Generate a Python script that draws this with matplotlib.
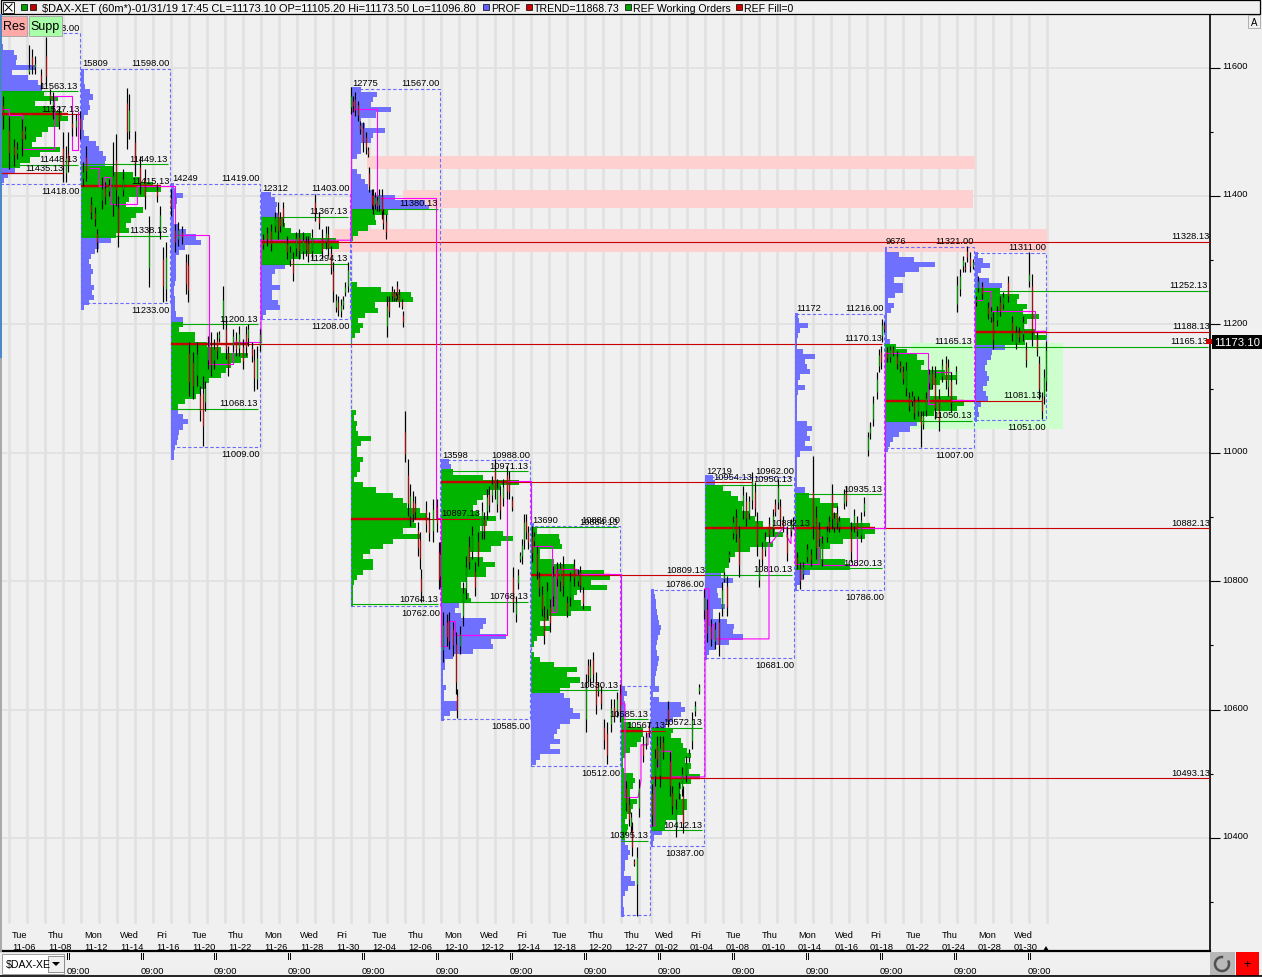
#!/usr/bin/env python3
"""Market profile chart of $DAX-XET hourly bars, with composite sessions."""

import matplotlib
matplotlib.use("Agg")
import matplotlib.pyplot as plt
from matplotlib.patches import Rectangle, Polygon, Arc
from matplotlib.ticker import MultipleLocator
from matplotlib.transforms import ScaledTranslation

plt.rcParams["font.family"] = ["Liberation Sans", "DejaVu Sans"]

W, H = 1262, 978
BG = "#f0f0f0"
GRID = "#e1e1e1"
BLUE = "#7070ff"
GREEN = "#00b400"
RED = "#c80000"
MAGENTA = "#ff00ff"
BOX = "#6a6aff"
FS = 6.7
BODY_SHARE = 0.7  # bar bodies are thin in the source, only the middle part gets coloured

# sessions: x positions are chart slots along the time axis
SESSION_X0 = [0, 81, 171, 261, 351, 441, 531, 621, 651, 705, 795, 885, 975]
SESSION_X1 = [80, 170, 260, 350, 440, 530, 620, 650, 704, 794, 884, 974, 1046]
SESSION_COUNT = [None, 15809, 14249, 12312, 12775, 13598, 13690, None, None, 12719, 11172, 9676, None]
SESSION_HIGH = [11653, 11598, 11419, 11403, 11567, 10988, 10886, 10637, 10786, 10962, 11216, 11321, 11311]
SESSION_LOW = [11418, 11233, 11009, 11208, 10762, 10585, 10512, 10280, 10387, 10681, 10786, 11007, 11051]
SESSION_VAH = [11563, 11449, 11200, 11367, 11380, 10971, 10884, 10585, 10572, 10950, 10935, 11165, 11252]
SESSION_VAL = [11448, 11338, 11068, 11294, 10764, 10768, 10630, 10395, 10412, 10810, 10820, 11050, 11165]
SESSION_POC = [11527, 11415, 11170, 11328, 10897, 10954, 10809, 10567, 10493, 10882, 10882, 11081, 11188]
POC_END = [80, 170, 882, 1210, 480, 752, 705, 665, 1210, 810, 1210, 1042, 1210]
VA_END = [78, 168, 258, 348, 438, 528, 618, 648, 702, 792, 882, 972, 1208]
PROFILE_TOP = [11636, 11598, 11420, 11406, 11570, 10990, 10890, 10637, 10788, 10965, 11218, 11321, 11312]
PROFILE_STEP = 8
NO_HIGH_LABEL = [7]
NO_LOW_LABEL = [7]

# profile widths, one per price row going down from PROFILE_TOP
PROFILE_S1 = [3, 14, 17, 16, 36, 12, 28, 38, 42, 44, 58, 35, 55, 62, 68, 60, 48, 42, 36, 32, 60, 40, 30, 20, 15, 8, 4]
PROFILE_S2 = [3, 3, 3, 4, 9, 12, 8, 9, 7, 3, 2, 2, 3, 8, 15, 18, 22, 25, 24, 33, 52, 60, 72, 80, 65, 48, 45, 62, 55,
              50, 45, 48, 35, 30, 18, 14, 10, 8, 10, 12, 10, 10, 13, 11, 13, 8, 3]
PROFILE_S3 = [3, 5, 12, 6, 4, 3, 3, 3, 8, 15, 25, 30, 14, 8, 5, 5, 5, 5, 5, 4, 3, 3, 4, 4, 4, 5, 12, 12, 8,
              24, 24, 36, 50, 77, 70, 60, 55, 50, 38, 34, 30, 25, 14, 7, 7, 12, 17, 12, 8, 7, 6, 4, 3, 3]
PROFILE_S4 = [10, 14, 16, 15, 18, 22, 24, 30, 50, 75, 78, 62, 40, 30, 24, 14, 11, 11, 19, 11, 11, 17, 19, 5, 2]
PROFILE_S5 = [10, 26, 22, 20, 40, 25, 10, 14, 34, 22, 20, 10, 10, 6, 0, 0, 6, 10, 14, 17, 22, 44, 74, 78,
              37, 24, 25, 17, 7, 2, 0, 0, 0, 0, 0, 0, 0, 0,
              6, 30, 60, 62, 24, 27, 14, 7, 12, 9, 4, 1,
              0, 0, 0, 0, 0, 0, 0, 0, 0, 0, 0, 0, 0,
              5, 3, 6, 5, 7, 20, 10, 6, 6, 12, 9, 9, 6, 3, 12, 25, 42, 52, 56, 69, 75, 62, 65, 52, 69, 42, 32,
              19, 12, 22, 22, 12, 6, 3, 2, 2, 2, 2]
PROFILE_S6 = [8, 10, 12, 42, 78, 60, 48, 42, 36, 32, 38, 55, 46, 39, 62, 72, 60, 50, 28, 42, 54, 45, 45, 25, 20,
              26, 28, 30, 18, 14, 20, 45, 42, 39, 65, 50, 52, 32, 12, 4, 4, 2, 2, 2, 5, 3, 3, 16, 16, 9, 3]
PROFILE_S7 = [3, 6, 28, 29, 31, 9, 9, 23, 43, 73, 79, 60, 76, 46, 43, 50, 60, 40, 18, 9, 19, 13, 6, 3, 0,
              3, 9, 23, 46, 36, 49, 39, 29, 33, 39, 39, 42, 49, 39, 29, 26, 23, 29, 19, 29, 9, 5]
PROFILE_S8 = [4, 6, 3, 4, 4, 4, 3, 10, 22, 22, 20, 16, 9, 4, 2, 2, 3, 12, 14, 12, 9, 9, 16, 12, 10, 6, 4, 7, 6, 4,
              4, 7, 9, 7, 4, 4, 3, 10, 14, 7, 4, 2, 2, 3, 3]
PROFILE_S9 = [3, 4, 5, 5, 6, 7, 8, 10, 9, 7, 6, 5, 6, 8, 7, 6, 5, 4, 4, 8, 2, 8, 30, 34, 30, 22, 15,
              22, 20, 30, 32, 36, 40, 34, 40, 38, 49, 40, 30, 28, 30, 36, 36, 32, 26, 15, 14, 11, 3, 2]
PROFILE_S10 = [8, 10, 18, 26, 33, 38, 37, 45, 50, 58, 70, 78, 60, 68, 45, 30, 24, 24, 20, 16, 28, 18, 12, 13, 16,
               20, 8, 8, 22, 29, 28, 38, 24, 10, 4, 2]
PROFILE_S11 = [3, 4, 13, 5, 3, 2, 2, 8, 20, 10, 12, 15, 5, 3, 10, 3, 2, 2, 2, 2, 2, 12, 17, 12, 15, 10, 17, 5, 2, 2,
               2, 2, 2, 2, 10, 14, 25, 43, 38, 42, 55, 75, 80, 70, 48, 35, 26, 26, 50, 55, 15, 8, 5, 2]
PROFILE_S12 = [2, 14, 29, 50, 34, 20, 9, 18, 18, 10, 3, 9, 6, 2, 2, 2, 2, 2, 5, 11, 22, 32, 39, 36, 60, 72, 55, 47,
               45, 72, 79, 72, 49, 36, 32, 25, 14, 8, 5, 3]
PROFILE_S13 = [3, 8, 15, 6, 3, 14, 27, 25, 44, 42, 52, 48, 64, 52, 48, 60, 72, 50, 30, 17, 16, 12, 10, 12, 14, 12,
               8, 11, 13, 6, 3, 4, 2]

# hourly bars per session: slot, high, low, open, close
BARS_S1 = [(3, 11556, 11504, 11545, 11520), (9, 11524, 11442, 11510, 11460), (14, 11489, 11447, 11480, 11460),
           (17, 11484, 11457, 11465, 11475), (22, 11520, 11462, 11505, 11485), (25, 11509, 11489, 11495, 11503),
           (29, 11635, 11590, 11592, 11600), (32, 11629, 11590, 11620, 11600), (35, 11618, 11590, 11600, 11606),
           (41, 11598, 11567, 11590, 11575), (46, 11648, 11571, 11625, 11580), (50, 11567, 11543, 11560, 11550),
           (53, 11562, 11520, 11540, 11550), (59, 11540, 11504, 11530, 11515), (63, 11500, 11422, 11480, 11440),
           (66, 11478, 11422, 11430, 11465), (68, 11500, 11437, 11470, 11445), (72, 11531, 11494, 11515, 11505),
           (76, 11528, 11494, 11505, 11520), (80, 11532, 11489, 11525, 11500)]
BARS_S2 = [(83, 11453, 11416, 11425, 11440), (86, 11478, 11423, 11465, 11435), (91, 11399, 11364, 11390, 11372),
           (95, 11383, 11353, 11375, 11362), (97, 11349, 11313, 11345, 11325), (102, 11430, 11380, 11390, 11415),
           (105, 11422, 11387, 11415, 11395), (109, 11427, 11400, 11405, 11420), (113, 11484, 11369, 11378, 11440),
           (116, 11497, 11385, 11465, 11400), (118, 11400, 11321, 11390, 11330), (123, 11442, 11400, 11405, 11430),
           (127, 11568, 11473, 11555, 11490), (129, 11559, 11489, 11495, 11540), (135, 11501, 11431, 11490, 11445),
           (140, 11462, 11403, 11450, 11415), (145, 11442, 11380, 11430, 11395), (149, 11369, 11258, 11275, 11355),
           (157, 11419, 11391, 11412, 11398), (160, 11385, 11333, 11340, 11375), (163, 11321, 11235, 11310, 11250),
           (166, 11328, 11237, 11245, 11315)]
BARS_S3 = [(171, 11411, 11369, 11400, 11380), (175, 11356, 11313, 11350, 11325), (178, 11359, 11322, 11330, 11350),
           (182, 11353, 11325, 11345, 11335), (186, 11310, 11247, 11305, 11255), (188, 11310, 11235, 11300, 11245),
           (189, 11172, 11088, 11165, 11100), (193, 11157, 11084, 11150, 11095), (197, 11172, 11104, 11115, 11160),
           (200, 11104, 11050, 11095, 11060), (203, 11120, 11011, 11105, 11030), (205, 11112, 11065, 11075, 11105),
           (208, 11182, 11130, 11140, 11170), (211, 11188, 11120, 11175, 11130), (214, 11177, 11130, 11140, 11165),
           (217, 11188, 11146, 11180, 11155), (219, 11190, 11172, 11178, 11186), (223, 11260, 11193, 11200, 11245),
           (226, 11213, 11146, 11200, 11155), (228, 11167, 11120, 11160, 11128), (233, 11193, 11157, 11165, 11185),
           (236, 11188, 11151, 11180, 11158), (239, 11198, 11151, 11158, 11190), (243, 11177, 11130, 11170, 11138),
           (246, 11198, 11151, 11190, 11160), (248, 11201, 11167, 11175, 11195), (252, 11172, 11141, 11165, 11148),
           (254, 11162, 11096, 11150, 11110), (257, 11167, 11099, 11108, 11155), (260, 11193, 11159, 11165, 11188)]
BARS_S4 = [(263, 11341, 11317, 11335, 11322), (267, 11352, 11322, 11345, 11330), (271, 11356, 11314, 11350, 11320),
           (275, 11375, 11344, 11350, 11368), (278, 11391, 11333, 11380, 11340), (280, 11375, 11344, 11368, 11350),
           (283, 11391, 11353, 11385, 11360), (287, 11338, 11302, 11330, 11310), (290, 11322, 11291, 11298, 11315),
           (293, 11313, 11268, 11305, 11275), (296, 11344, 11306, 11315, 11338), (299, 11349, 11302, 11340, 11310),
           (303, 11344, 11302, 11310, 11336), (306, 11338, 11306, 11332, 11312), (308, 11338, 11297, 11330, 11305),
           (312, 11349, 11302, 11310, 11340), (315, 11403, 11361, 11395, 11370), (319, 11375, 11349, 11370, 11355),
           (322, 11349, 11302, 11340, 11310), (326, 11353, 11317, 11325, 11345), (328, 11353, 11306, 11345, 11315),
           (331, 11322, 11279, 11315, 11285), (333, 11297, 11235, 11290, 11245), (336, 11247, 11219, 11225, 11240),
           (338, 11244, 11213, 11238, 11220), (341, 11239, 11212, 11218, 11232), (343, 11244, 11224, 11228, 11240),
           (345, 11266, 11244, 11248, 11260), (348, 11297, 11250, 11255, 11290)]
BARS_S5 = [(351, 11570, 11528, 11535, 11560), (353, 11556, 11531, 11550, 11538), (355, 11562, 11525, 11555, 11530),
           (358, 11548, 11517, 11545, 11522), (360, 11517, 11497, 11512, 11502), (363, 11515, 11469, 11510, 11480),
           (366, 11500, 11465, 11495, 11472), (368, 11476, 11461, 11472, 11465), (369, 11445, 11406, 11440, 11412),
           (372, 11411, 11380, 11405, 11385), (373, 11411, 11372, 11405, 11380), (375, 11406, 11380, 11385, 11400),
           (377, 11400, 11377, 11395, 11382), (379, 11411, 11377, 11382, 11405), (382, 11411, 11364, 11405, 11372),
           (383, 11380, 11349, 11375, 11355), (386, 11372, 11333, 11365, 11340),
           (387, 11244, 11180, 11190, 11236), (389, 11244, 11212, 11240, 11218), (392, 11260, 11236, 11254, 11242),
           (394, 11255, 11236, 11250, 11240), (396, 11250, 11236, 11240, 11246), (397, 11268, 11240, 11262, 11245),
           (399, 11255, 11227, 11250, 11232), (402, 11240, 11224, 11236, 11228), (403, 11221, 11196, 11216, 11202),
           (405, 11065, 10986, 11040, 10990), (408, 10990, 10901, 10975, 10910), (410, 10951, 10886, 10895, 10940),
           (413, 10941, 10892, 10930, 10900), (415, 10933, 10897, 10925, 10905), (418, 10892, 10839, 10885, 10845),
           (420, 10877, 10819, 10870, 10830), (421, 10819, 10768, 10810, 10780), (426, 10925, 10877, 10915, 10885),
           (429, 10908, 10862, 10900, 10870), (433, 10928, 10861, 10870, 10920), (437, 10928, 10877, 10920, 10885),
           (439, 10861, 10788, 10855, 10795), (440, 10861, 10791, 10800, 10850)]
BARS_S6 = [(443, 10752, 10674, 10685, 10740), (447, 10749, 10699, 10742, 10708), (449, 10752, 10694, 10745, 10700),
           (453, 10737, 10684, 10730, 10695), (456, 10721, 10624, 10715, 10630), (457, 10632, 10587, 10625, 10595),
           (460, 10730, 10687, 10695, 10722), (463, 10799, 10730, 10738, 10790), (466, 10839, 10772, 10780, 10830),
           (469, 10871, 10819, 10860, 10825), (472, 10886, 10835, 10842, 10878), (475, 10830, 10777, 10822, 10785),
           (478, 10877, 10824, 10868, 10832), (482, 10923, 10866, 10872, 10915), (484, 10908, 10866, 10900, 10874),
           (487, 10944, 10897, 10905, 10935), (489, 10948, 10908, 10940, 10915), (492, 10964, 10923, 10930, 10955),
           (495, 10990, 10928, 10980, 10935), (497, 10959, 10908, 10915, 10950), (500, 10948, 10897, 10940, 10905),
           (503, 10959, 10917, 10925, 10950), (507, 10980, 10928, 10970, 10935), (509, 10972, 10928, 10965, 10935),
           (512, 10933, 10909, 10928, 10914), (513, 10822, 10752, 10815, 10760), (516, 10777, 10737, 10745, 10770),
           (518, 10819, 10788, 10795, 10812), (520, 10846, 10830, 10834, 10842), (522, 10866, 10827, 10835, 10860),
           (524, 10905, 10850, 10858, 10898), (526, 10905, 10866, 10898, 10872), (528, 10886, 10850, 10880, 10858)]
BARS_S7 = [(532, 10886, 10830, 10875, 10838), (534, 10877, 10855, 10860, 10872), (537, 10855, 10803, 10850, 10810),
           (539, 10814, 10777, 10810, 10785), (542, 10793, 10746, 10785, 10752), (544, 10761, 10702, 10750, 10710),
           (547, 10799, 10741, 10750, 10790), (550, 10772, 10721, 10765, 10730), (553, 10824, 10761, 10770, 10815),
           (557, 10830, 10793, 10822, 10800), (560, 10830, 10785, 10795, 10825), (563, 10839, 10777, 10830, 10785),
           (567, 10777, 10744, 10770, 10750), (570, 10814, 10761, 10770, 10806), (574, 10835, 10793, 10828, 10800),
           (578, 10819, 10793, 10798, 10812), (580, 10824, 10783, 10818, 10790), (583, 10791, 10757, 10785, 10762),
           (586, 10655, 10565, 10575, 10645), (588, 10679, 10643, 10672, 10650), (590, 10679, 10637, 10645, 10672),
           (593, 10690, 10643, 10682, 10650), (596, 10658, 10593, 10650, 10600), (598, 10643, 10621, 10628, 10638),
           (601, 10637, 10601, 10630, 10606), (604, 10585, 10539, 10578, 10548), (607, 10580, 10515, 10570, 10522),
           (611, 10616, 10565, 10572, 10608), (614, 10616, 10581, 10606, 10588), (617, 10627, 10588, 10595, 10620),
           (620, 10640, 10581, 10630, 10590)]
BARS_S8 = [(626, 10489, 10442, 10482, 10450), (629, 10464, 10419, 10458, 10425), (631, 10441, 10409, 10415, 10435),
           (632, 10425, 10372, 10418, 10380), (634, 10367, 10356, 10365, 10358), (637, 10386, 10278, 10320, 10380),
           (639, 10492, 10433, 10440, 10485), (643, 10559, 10519, 10550, 10525), (646, 10565, 10539, 10545, 10560),
           (649, 10581, 10557, 10575, 10562)]
BARS_S9 = [(652, 10484, 10419, 10478, 10428), (655, 10539, 10481, 10490, 10530), (657, 10559, 10511, 10550, 10518),
           (660, 10559, 10479, 10488, 10550), (663, 10559, 10523, 10552, 10530), (668, 10613, 10573, 10605, 10580),
           (670, 10534, 10465, 10528, 10472), (672, 10481, 10437, 10475, 10445), (676, 10461, 10401, 10410, 10452),
           (679, 10487, 10461, 10468, 10480), (682, 10511, 10465, 10472, 10505), (683, 10481, 10408, 10475, 10415),
           (686, 10528, 10487, 10495, 10520), (689, 10539, 10519, 10525, 10534), (692, 10596, 10539, 10545, 10590),
           (695, 10613, 10590, 10596, 10608), (699, 10640, 10624, 10628, 10636)]
BARS_S10 = [(704, 10788, 10741, 10750, 10780), (707, 10772, 10705, 10765, 10712), (711, 10741, 10699, 10735, 10705),
            (715, 10737, 10694, 10702, 10730), (719, 10752, 10684, 10745, 10692), (722, 10799, 10746, 10752, 10792),
            (724, 10814, 10799, 10803, 10810), (727, 10808, 10746, 10800, 10752), (729, 10847, 10830, 10834, 10843),
            (733, 10901, 10866, 10872, 10895), (736, 10912, 10861, 10905, 10868), (739, 10886, 10806, 10878, 10815),
            (743, 10948, 10897, 10905, 10940), (746, 10939, 10886, 10930, 10892), (749, 10933, 10897, 10903, 10928),
            (752, 10970, 10912, 10920, 10962), (755, 10954, 10901, 10945, 10908), (757, 10908, 10839, 10900, 10848),
            (759, 10835, 10791, 10798, 10828), (762, 10861, 10824, 10855, 10830), (765, 10877, 10839, 10845, 10870),
            (769, 10900, 10861, 10892, 10868), (773, 10912, 10871, 10878, 10905), (775, 10928, 10901, 10922, 10906),
            (778, 10959, 10912, 10918, 10952), (780, 10928, 10886, 10922, 10892), (783, 10901, 10877, 10896, 10882),
            (787, 10886, 10831, 10880, 10838), (791, 10897, 10871, 10876, 10892), (793, 10900, 10881, 10885, 10895)]
BARS_S11 = [(797, 10845, 10819, 10840, 10825), (800, 10830, 10788, 10825, 10795), (803, 10830, 10803, 10808, 10825),
            (807, 10858, 10830, 10835, 10852), (811, 10850, 10824, 10845, 10830), (813, 10995, 10866, 10950, 10875),
            (816, 10917, 10835, 10910, 10842), (819, 10892, 10855, 10885, 10862), (822, 10871, 10824, 10830, 10865),
            (827, 10886, 10861, 10866, 10880), (829, 10901, 10877, 10895, 10882), (832, 10951, 10881, 10945, 10888),
            (834, 10908, 10877, 10882, 10902), (837, 10917, 10881, 10910, 10888), (839, 10901, 10877, 10882, 10895),
            (844, 10944, 10912, 10918, 10938), (846, 10948, 10917, 10942, 10922), (851, 10892, 10830, 10885, 10838),
            (854, 10912, 10877, 10882, 10906), (857, 10901, 10871, 10895, 10876), (861, 10908, 10861, 10866, 10900),
            (864, 10931, 10901, 10906, 10925), (868, 11033, 10995, 11000, 11028), (870, 11048, 11022, 11028, 11042),
            (873, 11089, 11042, 11048, 11082), (877, 11126, 11084, 11090, 11120), (879, 11162, 11126, 11132, 11156),
            (881, 11167, 11131, 11160, 11138), (882, 11208, 11172, 11178, 11202), (884, 11204, 11188, 11200, 11192)]
BARS_S12 = [(887, 11165, 11141, 11160, 11146), (890, 11167, 11141, 11146, 11162), (893, 11167, 11151, 11162, 11155),
            (897, 11159, 11131, 11154, 11136), (900, 11143, 11126, 11138, 11130), (903, 11135, 11107, 11130, 11112),
            (906, 11141, 11089, 11095, 11135), (909, 11095, 11065, 11090, 11070), (912, 11096, 11073, 11078, 11090),
            (914, 11089, 11053, 11084, 11058), (918, 11089, 11057, 11062, 11084), (921, 11065, 11009, 11060, 11040),
            (923, 11065, 11037, 11042, 11060), (926, 11095, 11057, 11062, 11090), (929, 11131, 11099, 11105, 11126),
            (932, 11135, 11099, 11128, 11104), (935, 11135, 11053, 11128, 11060), (939, 11099, 11034, 11092, 11042),
            (942, 11146, 11110, 11116, 11140), (946, 11151, 11099, 11145, 11105), (948, 11146, 11089, 11095, 11140),
            (951, 11126, 11064, 11120, 11070), (956, 11135, 11107, 11112, 11130), (957, 11275, 11219, 11225, 11268),
            (960, 11286, 11244, 11250, 11280), (963, 11307, 11282, 11288, 11302), (965, 11297, 11282, 11290, 11285),
            (967, 11322, 11297, 11316, 11302), (970, 11313, 11282, 11306, 11288), (973, 11302, 11286, 11290, 11298)]
BARS_S13 = [(976, 11244, 11229, 11234, 11240), (978, 11275, 11250, 11255, 11270), (982, 11266, 11240, 11262, 11245),
            (988, 11235, 11209, 11230, 11214), (991, 11227, 11204, 11209, 11222), (993, 11219, 11162, 11212, 11170),
            (997, 11229, 11198, 11204, 11224), (1000, 11244, 11213, 11238, 11218), (1003, 11250, 11224, 11230, 11245),
            (1008, 11275, 11235, 11270, 11240), (1012, 11213, 11174, 11208, 11180), (1016, 11198, 11162, 11168, 11192),
            (1019, 11196, 11172, 11190, 11178), (1023, 11213, 11174, 11180, 11208), (1026, 11172, 11134, 11165, 11140),
            (1029, 11313, 11258, 11265, 11280), (1032, 11279, 11167, 11275, 11172), (1037, 11188, 11151, 11185, 11155),
            (1039, 11151, 11084, 11148, 11090), (1042, 11095, 11053, 11090, 11060), (1044, 11131, 11076, 11082, 11125),
            (1046, 11174, 11096, 11102, 11170)]

# developing point of control path per session: slot, price
MAGENTA_S1 = [(0, 11535), (9, 11535), (9, 11526), (22, 11526), (22, 11473), (54, 11473), (54, 11556), (72, 11556),
              (72, 11471), (78, 11471), (78, 11531)]
MAGENTA_S2 = [(90, 11443), (99, 11443), (99, 11415), (104, 11415), (104, 11429), (110, 11429), (110, 11387),
              (137, 11387), (137, 11415), (170, 11415)]
MAGENTA_S3 = [(170, 11415), (175, 11415), (175, 11339), (209, 11339), (209, 11138), (233, 11138), (233, 11172),
              (261, 11172)]
MAGENTA_S4 = [(261, 11172), (261, 11331), (351, 11331), (352, 11535)]
MAGENTA_S5 = [(352, 11535), (377, 11535), (377, 11397), (436, 11397), (436, 10898), (441, 10898)]
MAGENTA_S6 = [(441, 10898), (441, 10699), (447, 10699), (447, 10738), (455, 10738), (455, 10716), (507, 10716),
              (507, 10956), (531, 10956), (531, 10892)]
MAGENTA_S7 = [(531, 10855), (552, 10855), (552, 10752), (556, 10752), (556, 10819), (577, 10819), (577, 10811),
              (621, 10811), (621, 10609)]
MAGENTA_S8 = [(621, 10609), (625, 10609), (625, 10463), (638, 10463), (641, 10489), (641, 10545), (648, 10545),
              (648, 10563), (651, 10563)]
MAGENTA_S9 = [(651, 10419), (655, 10419), (655, 10495), (656, 10512), (660, 10512), (660, 10535), (671, 10535),
              (671, 10495), (705, 10495), (705, 10788)]
MAGENTA_S10 = [(705, 10788), (709, 10788), (709, 10732), (714, 10732), (714, 10710), (769, 10710), (769, 10858),
               (772, 10861), (783, 10883), (787, 10883), (787, 10869), (791, 10858), (791, 10883), (795, 10883)]
MAGENTA_S11 = [(795, 10883), (795, 10827), (819, 10827), (819, 10869), (822, 10869), (822, 10825), (857, 10825),
               (857, 10883), (885, 10883)]
MAGENTA_S12 = [(885, 10883), (885, 11155), (928, 11155), (928, 11076), (935, 11076), (935, 11126), (951, 11126),
               (951, 11082), (975, 11082)]
MAGENTA_S13 = [(975, 11082), (975, 11238), (982, 11238), (982, 11252), (991, 11252), (991, 11221), (1035, 11221),
               (1035, 11190), (1046, 11190)]

# support / resistance zones
ZONE_X0 = [367, 403, 333, 911]
ZONE_X1 = [975, 973, 1047, 1063]
ZONE_TOP = [11462, 11409, 11348, 11171]
ZONE_BOTTOM = [11442, 11381, 11312, 11037]
ZONE_COLOR = ["#ffd0d0", "#ffd0d0", "#ffd0d0", "#ccffcc"]

# extra level in the first session
EXTRA_LEVEL = 11435
EXTRA_END = 63

# time axis
GRID_X = [9 + 18 * k for k in range(35)] + [639, 651, 669, 687] + [705 + 18 * k for k in range(20)]
DAY_X = [12, 48, 84, 120, 156, 192, 228, 264, 300, 336, 372, 408, 444, 480, 516, 552, 588, 624, 655, 690, 726,
         762, 798, 835, 870, 906, 942, 978, 1014]
DAY_NAME = ["Tue", "Thu", "Mon", "Wed", "Fri", "Tue", "Thu", "Mon", "Wed", "Fri", "Tue", "Thu", "Mon", "Wed", "Fri",
            "Tue", "Thu", "Thu", "Wed", "Fri", "Tue", "Thu", "Mon", "Wed", "Fri", "Tue", "Thu", "Mon", "Wed"]
DAY_DATE = ["11-06", "11-08", "11-12", "11-14", "11-16", "11-20", "11-22", "11-26", "11-28", "11-30", "12-04",
            "12-06", "12-10", "12-12", "12-14", "12-18", "12-20", "12-27", "01-02", "01-04", "01-08", "01-10",
            "01-14", "01-16", "01-18", "01-22", "01-24", "01-28", "01-30"]
HOUR_X = [67, 141, 214, 288, 362, 436, 510, 584, 658, 732, 806, 880, 954, 1028]
PRICE_TICKS = [10400, 10600, 10800, 11000, 11200, 11400, 11600]
LAST_PRICE = 11173.10

PROFILES = [PROFILE_S1, PROFILE_S2, PROFILE_S3, PROFILE_S4, PROFILE_S5, PROFILE_S6, PROFILE_S7,
            PROFILE_S8, PROFILE_S9, PROFILE_S10, PROFILE_S11, PROFILE_S12, PROFILE_S13]
BARS = [BARS_S1, BARS_S2, BARS_S3, BARS_S4, BARS_S5, BARS_S6, BARS_S7, BARS_S8, BARS_S9, BARS_S10, BARS_S11,
        BARS_S12, BARS_S13]
MAGENTAS = [MAGENTA_S1, MAGENTA_S2, MAGENTA_S3, MAGENTA_S4, MAGENTA_S5, MAGENTA_S6, MAGENTA_S7, MAGENTA_S8,
            MAGENTA_S9, MAGENTA_S10, MAGENTA_S11, MAGENTA_S12, MAGENTA_S13]


def label(ax, x, price, text, ha="right", dy=1.2, va="bottom"):
    ax.annotate(text, (x, price), xytext=(0, dy), textcoords="offset points", ha=ha, va=va,
                fontsize=FS, color="black", zorder=9)


def draw_session(ax, i):
    x0, x1 = SESSION_X0[i], SESSION_X1[i]
    high, low = SESSION_HIGH[i], SESSION_LOW[i]
    vah, val, poc = SESSION_VAH[i], SESSION_VAL[i], SESSION_POC[i]
    widths = PROFILES[i]

    # profile rows, green inside the value area and blue outside
    rows = [PROFILE_TOP[i] - PROFILE_STEP * (k + 0.5) for k in range(len(widths))]
    colors = [GREEN if val <= r <= vah else BLUE for r in rows]
    ax.barh(rows, widths, height=PROFILE_STEP, left=x0, color=colors, linewidth=0, antialiased=False, zorder=2)

    ax.add_patch(Rectangle((x0, low), x1 - x0, high - low, fill=False, edgecolor=BOX, linewidth=0.8,
                           linestyle=(0, (3, 2)), zorder=3))

    ax.hlines([vah, val], x0, VA_END[i], color="#00a800", linewidth=0.8, zorder=3)
    ax.hlines(poc, x0, POC_END[i], color=RED, linewidth=0.8, zorder=3)
    ax.hlines(poc, x0, x0 + max(widths), color=RED, linewidth=1.7, zorder=3)

    xs, ys = zip(*MAGENTAS[i])
    ax.plot(xs, ys, color=MAGENTA, linewidth=0.8, zorder=4, solid_joinstyle="miter")

    for x, hi, lo, op, cl in BARS[i]:
        mid = (op + cl) / 2
        half = abs(cl - op) / 2 * BODY_SHARE
        ax.vlines(x, lo, hi, color="black", linewidth=0.85, zorder=5)
        ax.vlines(x, mid - half, mid + half, color="#009000" if cl > op else "#a81010", linewidth=0.85, zorder=6)

    if SESSION_COUNT[i] is not None:
        label(ax, x0 + 1, high, str(SESSION_COUNT[i]), ha="left")
    if i not in NO_HIGH_LABEL:
        label(ax, x1, high, f"{high}.00")
    if i not in NO_LOW_LABEL:
        label(ax, x1, low, f"{low}.00", dy=-1.5, va="top")
    label(ax, VA_END[i], vah, f"{vah}.13")
    label(ax, VA_END[i], val, f"{val}.13")
    label(ax, POC_END[i], poc, f"{poc}.13")


def draw_chrome(fig):
    ui = fig.add_axes([0, 0, 1, 1], zorder=10)
    ui.set_xlim(0, W)
    ui.set_ylim(H, 0)
    ui.axis("off")
    ui.patch.set_alpha(0)

    # header bar
    ui.add_patch(Rectangle((1, 1), W - 3, 14, fc=BG, ec="black", lw=0.9))
    ui.add_patch(Rectangle((3, 3), 11, 11, fc="white", ec="black", lw=0.6))
    ui.plot([5, 12], [5, 12], color="black", lw=0.7)
    ui.plot([5, 12], [12, 5], color="black", lw=0.7)
    legend = [(21, "#00a000", None), (30, "#c00000", None),
              (483, "#6060ff", "PROF"), (526, "#d00000", "TREND=11868.73"),
              (625, "#00a000", "REF Working Orders"), (736, "#d00000", "REF Fill=0")]
    for x, color, text in legend:
        ui.add_patch(Rectangle((x, 5), 6, 6, fc=color, ec="black", lw=0.5))
        if text:
            ui.text(x + 8, 8.5, text, fontsize=7.6, va="center", ha="left")
    ui.text(42, 8.5, "$DAX-XET (60m*)-01/31/19 17:45 CL=11173.10 OP=11105.20 Hi=11173.50 Lo=11096.80",
            fontsize=7.95, va="center", ha="left")

    # Res / Supp buttons
    ui.add_patch(Rectangle((1, 17), 26, 20, fc="#ffa8a8", ec="#a0a0a0", lw=0.6))
    ui.add_patch(Rectangle((29, 17), 33, 20, fc="#a8ffa8", ec="#a0a0a0", lw=0.6))
    ui.text(14, 27, "Res", fontsize=9, ha="center", va="center")
    ui.text(45.5, 27, "Supp", fontsize=9, ha="center", va="center")

    # left window edge
    ui.plot([0.5, 0.5], [16, 360], color="#4a86c8", lw=1.4)
    ui.plot([0.5, 0.5], [360, 952], color="#a8a8a8", lw=1.4)

    # price panel bits
    ui.add_patch(Rectangle((1248, 16), 12, 13, fc=BG, ec="#b0b0b0", lw=0.7))
    ui.text(1254, 22.5, "A", fontsize=7, ha="center", va="center")
    ui.add_patch(Rectangle((1212, 336), 50, 14, fc="black", ec="none"))
    ui.text(1237, 343, f"{LAST_PRICE:.2f}", color="white", fontsize=8.2, ha="center", va="center")
    ui.add_patch(Rectangle((1206, 340), 6, 5, fc="#c80000", ec="none"))

    # day labels
    for x, name, date in zip(DAY_X, DAY_NAME, DAY_DATE):
        ui.text(x, 936, name, fontsize=FS, ha="left", va="center")
        ui.text(x, 947, date, fontsize=FS, ha="left", va="center")
    ui.add_patch(Polygon([(1043, 952), (1049, 952), (1046, 947)], fc="black", ec="none"))

    # bottom bar
    ui.plot([0, W], [977, 977], color="black", lw=1.2)
    ui.add_patch(Rectangle((2, 955), 62, 20, fc="white", ec="#909090", lw=0.6))
    ui.add_patch(Rectangle((48, 957), 16, 16, fc=BG, ec="#808080", lw=0.6))
    ui.add_patch(Polygon([(52, 963), (60, 963), (56, 967)], fc="black", ec="none"))
    ui.text(6, 965, "$DAX-XE", fontsize=7.6, ha="left", va="center")
    for x in HOUR_X:
        ui.plot([x, x], [954, 960], color="black", lw=0.7)
        ui.plot([x + 2, x + 2], [954, 960], color="black", lw=0.7)
        ui.text(x, 971, "09:00", fontsize=FS, ha="left", va="center")
    ui.add_patch(Rectangle((1210, 953), 25, 24, fc="#b8b8b8", ec="none"))
    ui.add_patch(Arc((1222, 965), 14, 14, theta1=330, theta2=280, ec="#505050", lw=1.8))
    ui.add_patch(Rectangle((1236, 953), 23, 24, fc="#ff0000", ec="none"))
    ui.text(1247.5, 965, "+", fontsize=9, ha="center", va="center")


def main():
    fig = plt.figure(figsize=(W / 100, H / 100), dpi=100, facecolor=BG)
    ax = fig.add_axes([0, (H - 952) / H, 1210 / W, (952 - 16) / H], facecolor=BG)
    ax.set_xlim(0, 1210)
    ax.set_ylim(10223.9, 11681.8)

    ax.vlines(GRID_X, 10267, 11681.8, color=GRID, linewidth=1.9, zorder=0)
    ax.hlines(PRICE_TICKS, 0, 1210, color=GRID, linewidth=1.3, zorder=0)

    for x0, x1, top, bottom, color in zip(ZONE_X0, ZONE_X1, ZONE_TOP, ZONE_BOTTOM, ZONE_COLOR):
        ax.add_patch(Rectangle((x0, bottom), x1 - x0, top - bottom, fc=color, ec="none", zorder=1))

    for i in range(len(SESSION_X0)):
        draw_session(ax, i)

    ax.hlines(EXTRA_LEVEL, 0, EXTRA_END, color=RED, linewidth=0.9, zorder=3)
    label(ax, EXTRA_END, EXTRA_LEVEL, f"{EXTRA_LEVEL}.13")

    for side in ("left", "top"):
        ax.spines[side].set_visible(False)
    ax.spines["right"].set_linewidth(1.2)
    ax.spines["bottom"].set_linewidth(1.6)

    ax.xaxis.set_visible(False)
    ax.yaxis.tick_right()
    ax.set_yticks(PRICE_TICKS)
    ax.set_yticklabels([str(p) for p in PRICE_TICKS])
    ax.yaxis.set_minor_locator(MultipleLocator(100))
    ax.tick_params(axis="y", which="major", length=7, width=0.8, pad=1.5, labelsize=FS)
    ax.tick_params(axis="y", which="minor", length=2.5, width=0.8)
    up = ScaledTranslation(0, 3 / 100, fig.dpi_scale_trans)
    for tick in ax.get_yticklabels():
        tick.set_transform(tick.get_transform() + up)

    draw_chrome(fig)
    fig.savefig("out.png", dpi=100, facecolor=BG)


if __name__ == "__main__":
    main()
